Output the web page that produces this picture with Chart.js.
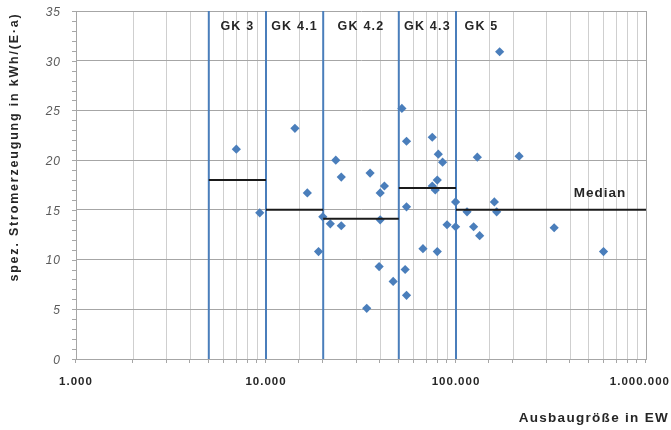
<!DOCTYPE html>
<html><head><meta charset="utf-8">
<script src="https://cdn.jsdelivr.net/npm/chart.js@4/dist/chart.umd.min.js"></script>
<style>html,body{margin:0;padding:0;background:#fff;}canvas{display:block;}</style>
</head><body>
<canvas id="c" width="671" height="430"></canvas>
<script>
// ---- data ----
const ausbauEW = [6980, 9270, 14200, 16500, 18900, 19900, 21800, 23300, 24900, 24900,
  33900, 35300, 39400, 39900, 39900, 42000, 46700, 51900, 54000, 54900,
  54900, 54900, 67000, 75000, 75000, 77800, 79700, 79700, 80700, 85000,
  89700, 99500, 99500, 114300, 123800, 129500, 133200, 159200, 163700, 169700,
  214800, 328600, 597600];
const stromErz = [21.1, 14.7, 23.2, 16.7, 10.8, 14.3, 13.6, 20.0, 18.3, 13.4,
  5.1, 18.7, 9.3, 16.7, 14.0, 17.4, 7.8, 25.2, 9.0, 21.9,
  15.3, 6.4, 11.1, 22.3, 17.4, 17.0, 18.0, 10.8, 20.6, 19.8,
  13.5, 15.8, 13.3, 14.8, 13.3, 20.3, 12.4, 15.8, 14.8, 30.9,
  20.4, 13.2, 10.8];
const groupNames = ['GK 3', 'GK 4.1', 'GK 4.2', 'GK 4.3', 'GK 5'];
const groupBounds = [5000, 10000, 20000, 50000, 100000, 1000000];
const groupMedians = [18.0, 15.0, 14.1, 17.2, 15.0];
const yTicks = [0, 5, 10, 15, 20, 25, 30, 35];
const xTickValues = [1000, 10000, 100000, 1000000];
const xTickLabels = ['1.000', '10.000', '100.000', '1.000.000'];
const xTitle = 'Ausbaugröße in EW';
const yTitle = 'spez. Stromerzeugung in kWh/(E·a)';
const medianLabel = 'Median';

const FONT = "'Liberation Sans', Arial, sans-serif";
const BLUE = '#4a7ebb';
const TEXT = '#262626';
const GRID = '#a6a6a6';
const YMIN = yTicks[0], YMAX = yTicks[yTicks.length - 1];

const datasets = [];
datasets.push({
  label: 'Anlagen',
  data: ausbauEW.map((x, i) => ({ x: x, y: stromErz[i] })),
  pointStyle: 'rectRot', pointRadius: 4.6, pointHoverRadius: 4.6,
  backgroundColor: BLUE, borderColor: BLUE, borderWidth: 0, order: 1
});
groupMedians.forEach((m, i) => datasets.push({
  label: 'Median ' + groupNames[i],
  data: [{ x: groupBounds[i], y: m }, { x: groupBounds[i + 1], y: m }],
  showLine: true, pointRadius: 0, borderColor: '#1a1a1a', borderWidth: 2, order: 0
}));
groupBounds.slice(0, -1).forEach(b => datasets.push({
  label: 'Grenze ' + b,
  data: [{ x: b, y: YMIN }, { x: b, y: YMAX }],
  showLine: true, pointRadius: 0, borderColor: BLUE, borderWidth: 2, order: 2
}));

function setFont(ctx, f, spacing) {
  ctx.font = f;
  try { ctx.letterSpacing = (spacing || 0) + 'px'; } catch (e) {}
}

const decor = {
  id: 'decor',
  afterDraw(chart) {
    const ctx = chart.ctx, xs = chart.scales.x, ys = chart.scales.y, ca = chart.chartArea;
    ctx.save();
    // tick marks
    ctx.strokeStyle = GRID; ctx.lineWidth = 1;
    ctx.beginPath();
    for (let v = YMIN; v <= YMAX; v++) {
      const y = Math.round(ys.getPixelForValue(v)) + 0.5;
      ctx.moveTo(ca.left - 4, y); ctx.lineTo(ca.left, y);
    }
    xs.ticks.forEach(t => {
      const x = Math.round(xs.getPixelForValue(t.value)) - 0.5;
      ctx.moveTo(x, ca.bottom); ctx.lineTo(x, ca.bottom + 4);
    });
    ctx.stroke();

    // y tick labels
    setFont(ctx, 'italic 12px ' + FONT, 1);
    ctx.fillStyle = '#595959'; ctx.textAlign = 'right'; ctx.textBaseline = 'middle';
    yTicks.forEach(v => ctx.fillText(String(v), ca.left - 15, ys.getPixelForValue(v) + 1.5));

    // x tick labels
    setFont(ctx, 'bold 11.5px ' + FONT, 1);
    ctx.fillStyle = TEXT; ctx.textAlign = 'left';
    xTickValues.forEach((v, i) => {
      const w = ctx.measureText(xTickLabels[i]).width;
      let x0 = xs.getPixelForValue(v) - w / 2;
      if (x0 + w > chart.width - 1) x0 = chart.width - 1 - w;
      ctx.fillText(xTickLabels[i], x0, ca.bottom + 23);
    });

    // axis titles
    setFont(ctx, 'bold 13.5px ' + FONT, 1.3);
    ctx.textAlign = 'right';
    ctx.fillText(xTitle, chart.width - 2, ca.bottom + 59.5);
    ctx.save();
    ctx.translate(15, 147);
    ctx.rotate(-Math.PI / 2);
    setFont(ctx, 'bold 12.5px ' + FONT, 1.8);
    ctx.textAlign = 'center';
    ctx.fillText(yTitle, 0, 0);
    ctx.restore();

    // group labels
    setFont(ctx, 'bold 12.5px ' + FONT, 1.2);
    ctx.textBaseline = 'middle';
    groupNames.forEach((n, i) => {
      const a = xs.getPixelForValue(groupBounds[i]);
      const b = xs.getPixelForValue(groupBounds[i + 1]);
      if (i < groupNames.length - 1) {
        ctx.textAlign = 'center';
        ctx.fillText(n, (a + b) / 2, ca.top + 15.5);
      } else {
        ctx.textAlign = 'left';
        ctx.fillText(n, a + 8.5, ca.top + 15.5);
      }
    });

    // median label
    setFont(ctx, 'bold 13.5px ' + FONT, 1);
    ctx.textAlign = 'center';
    const lastM = groupMedians[groupMedians.length - 1];
    ctx.fillText(medianLabel, ca.right - 46, ys.getPixelForValue(lastM) - 16.5);
    ctx.restore();
  }
};

new Chart(document.getElementById('c'), {
  type: 'scatter',
  data: { datasets: datasets },
  options: {
    responsive: false, animation: false, events: [],
    layout: { padding: { left: 76, right: 25, top: 11, bottom: 71 } },
    plugins: { legend: { display: false }, tooltip: { enabled: false } },
    scales: {
      x: {
        type: 'logarithmic', min: xTickValues[0], max: xTickValues[xTickValues.length - 1],
        ticks: { display: false },
        grid: { drawTicks: false, lineWidth: 1,
          color: c => (c.tick && c.tick.value === xTickValues[xTickValues.length - 1]) ? GRID : '#cfcfcf' },
        border: { display: true, color: GRID }
      },
      y: {
        type: 'linear', min: YMIN, max: YMAX,
        ticks: { display: false, stepSize: 5 },
        grid: { drawTicks: false, color: GRID, lineWidth: 1 },
        border: { display: true, color: GRID }
      }
    }
  },
  plugins: [decor]
});
</script>
</body></html>
